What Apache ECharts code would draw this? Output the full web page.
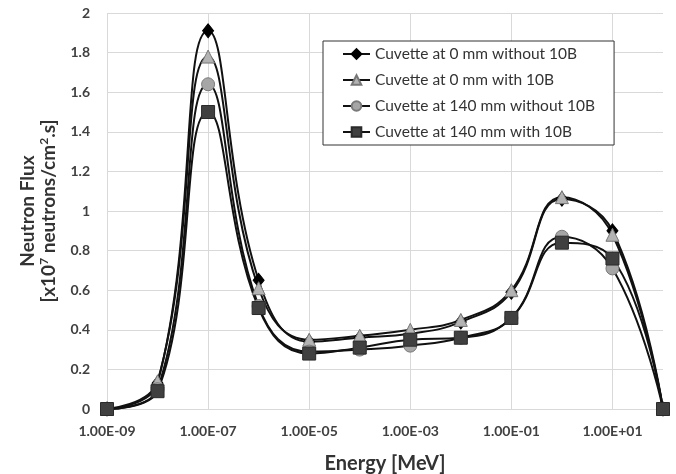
<!DOCTYPE html>
<html>
<head>
<meta charset="utf-8">
<script src="https://cdn.jsdelivr.net/npm/echarts@6/dist/echarts.min.js"></script>
<style>html,body{margin:0;padding:0;background:#fff;}#c{width:676px;height:474px;}</style>
</head>
<body>
<div id="c"></div>
<script>
const energyLabels = ['1.00E-09','1.00E-08','1.00E-07','1.00E-06','1.00E-05','1.00E-04','1.00E-03','1.00E-02','1.00E-01','1.00E+00','1.00E+01','1.00E+02'];
const seriesNames = ['Cuvette at 0 mm without 10B','Cuvette at 0 mm with 10B','Cuvette at 140 mm without 10B','Cuvette at 140 mm with 10B'];
const s0mmNo10B   = [0, 0.13, 1.91, 0.65, 0.34, 0.36, 0.38, 0.44, 0.59, 1.06, 0.90, 0];
const s0mm10B     = [0, 0.14, 1.78, 0.61, 0.35, 0.37, 0.40, 0.45, 0.60, 1.07, 0.88, 0];
const s140mmNo10B = [0, 0.10, 1.64, 0.52, 0.29, 0.30, 0.32, 0.36, 0.46, 0.87, 0.71, 0];
const s140mm10B   = [0, 0.09, 1.50, 0.51, 0.28, 0.31, 0.35, 0.36, 0.46, 0.84, 0.76, 0];

const FONT = 'Lato';
const chart = echarts.init(document.getElementById('c'));
const lineStyle = {color: '#111', width: 2};
function mk(name, data, symbol, size, fill, border) {
  return {
    name, type: 'line', data, smooth: 0.45, symbol, symbolSize: size,
    showAllSymbol: true, lineStyle,
    itemStyle: {color: fill, borderColor: border, borderWidth: 1, opacity: 1},
    emphasis: {disabled: true}
  };
}
chart.setOption({
  animation: false,
  textStyle: {fontFamily: FONT},
  grid: {left: 107, right: 13, top: 13, bottom: 65, containLabel: false, outerBoundsMode: 'none'},
  legend: {
    orient: 'vertical', left: 323, top: 41,
    backgroundColor: '#fff', borderColor: '#333', borderWidth: 1,
    padding: [5, 19, 5, 19], itemGap: 10, itemWidth: 27, itemHeight: 12,
    textStyle: {fontFamily: FONT, fontSize: 15.5, color: '#333'},
    data: seriesNames
  },
  xAxis: {
    type: 'category', data: energyLabels, boundaryGap: false,
    axisLine: {lineStyle: {color: '#d9d9d9'}},
    axisTick: {show: false},
    axisLabel: {interval: 1, fontFamily: FONT, fontWeight: 'bold', fontSize: 14, color: '#404040', margin: 15},
    splitLine: {show: true, interval: 1, lineStyle: {color: '#d9d9d9'}},
    name: 'Energy [MeV]', nameLocation: 'middle', nameGap: 45,
    nameTextStyle: {fontFamily: FONT, fontWeight: 'bold', fontSize: 20, color: '#333'}
  },
  yAxis: {
    type: 'value', min: 0, max: 2, interval: 0.2,
    axisLine: {show: false}, axisTick: {show: false},
    axisLabel: {fontFamily: FONT, fontWeight: 'bold', fontSize: 14, color: '#404040', margin: 17},
    splitLine: {lineStyle: {color: '#d9d9d9'}},
    name: 'Neutron Flux\n[x10{sup|7} neutrons/cm{sup|2}.s]',
    nameLocation: 'middle', nameRotate: 90, nameGap: 42,
    nameTextStyle: {
      fontFamily: FONT, fontWeight: 'bold', fontSize: 19, color: '#333', lineHeight: 21,
      rich: {sup: {fontFamily: FONT, fontWeight: 'bold', fontSize: 12, color: '#333', verticalAlign: 'top', lineHeight: 21, padding: [0,0,9,0]}}
    }
  },
  series: [
    mk(seriesNames[0], s0mmNo10B, 'diamond', [11, 14], '#000', '#000'),
    mk(seriesNames[1], s0mm10B, 'triangle', 13, '#b3b3b3', '#777'),
    mk(seriesNames[2], s140mmNo10B, 'circle', 13, '#a6a6a6', '#7a7a7a'),
    mk(seriesNames[3], s140mm10B, 'rect', 13, '#404040', '#2a2a2a')
  ]
});
</script>
</body>
</html>
